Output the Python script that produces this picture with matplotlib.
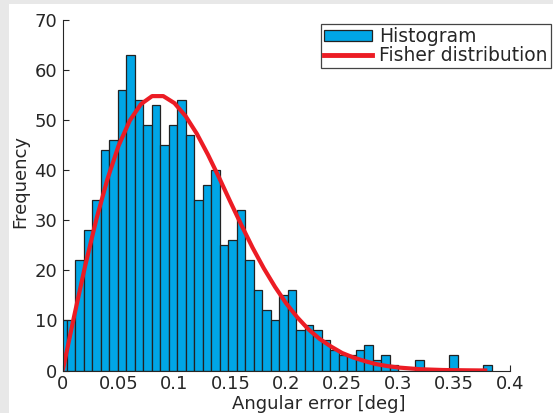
import numpy as np
import matplotlib
matplotlib.use("Agg")
import matplotlib.pyplot as plt
from matplotlib.patches import Patch, Rectangle
from matplotlib.lines import Line2D

# ---- data ----
bin_width = 0.0076
counts = [10, 10, 22, 28, 34, 44, 46, 56, 63, 54,
          49, 53, 45, 49, 54, 47, 34, 37, 40, 25,
          26, 32, 22, 16, 12, 10, 15, 16, 8, 9,
          8, 6, 4, 3, 3, 4, 5, 2, 3, 1,
          0, 0, 2, 0, 0, 0, 3, 0, 0, 0,
          1]
bin_centers = np.arange(len(counts)) * bin_width

fisher_x = [0.00, 0.01, 0.02, 0.03, 0.04, 0.05, 0.06, 0.07, 0.08, 0.09,
            0.10, 0.11, 0.12, 0.13, 0.14, 0.15, 0.16, 0.17, 0.18, 0.19,
            0.20, 0.21, 0.22, 0.23, 0.24, 0.25, 0.26, 0.27, 0.28, 0.29,
            0.30, 0.32, 0.34, 0.36, 0.38]
fisher_y = [0.0, 10.6, 20.8, 30.1, 38.2, 44.9, 49.9, 53.2, 54.8, 54.8,
            53.4, 50.8, 47.3, 43.1, 38.5, 33.7, 29.0, 24.5, 20.4, 16.7,
            13.4, 10.6, 8.2, 6.3, 4.8, 3.5, 2.6, 1.9, 1.3, 0.9,
            0.6, 0.25, 0.1, 0.04, 0.0]

x_ticks = [0, 0.05, 0.1, 0.15, 0.2, 0.25, 0.3, 0.35, 0.4]
x_tick_labels = ["0", "0.05", "0.1", "0.15", "0.2", "0.25", "0.3", "0.35", "0.4"]
y_ticks = [0, 10, 20, 30, 40, 50, 60, 70]

bar_color = "#00a6e6"
edge_color = "#222222"
red = "#ec1c24"
text_color = "#262626"

W, H = 553, 413
fig = plt.figure(figsize=(W / 100, H / 100), dpi=100, facecolor="#e8e8e8")
fig.patches.append(Rectangle((9 / W, 0), 1, 1 - 4 / H, transform=fig.transFigure,
                             facecolor="white", edgecolor="none", zorder=-5))

ax = fig.add_axes([62.7 / W, 1 - 370.5 / H, (509.7 - 62.7) / W, (370.5 - 20) / H])
ax.set_facecolor("white")

ax.bar(bin_centers, counts, width=bin_width, color=bar_color,
       edgecolor=edge_color, linewidth=0.9, zorder=2)
ax.plot(fisher_x, fisher_y, color=red, linewidth=3.0, zorder=3,
        solid_capstyle="butt")

ax.set_xlim(0, 0.4)
ax.set_ylim(0, 70)
ax.set_xticks(x_ticks)
ax.set_xticklabels(x_tick_labels)
ax.set_yticks(y_ticks)

for s in ["top", "right"]:
    ax.spines[s].set_visible(False)
for s in ["left", "bottom"]:
    ax.spines[s].set_color(text_color)
    ax.spines[s].set_linewidth(0.8)
    ax.spines[s].set_zorder(4)

ax.tick_params(direction="in", length=4, width=0.8, colors=text_color,
               labelsize=13)
ax.tick_params(axis="y", pad=4)
ax.tick_params(axis="x", pad=3)

fig.text(20 / W, 1 - 181 / H, "Frequency", rotation=90, ha="center",
         va="center", fontsize=13, color=text_color)
fig.text(319 / W, 1 - 404 / H, "Angular error [deg]", ha="center",
         va="center", fontsize=13, color=text_color)

handles = [Patch(facecolor=bar_color, edgecolor=edge_color, linewidth=0.9),
           Line2D([0], [0], color=red, linewidth=3.5)]
leg = fig.legend(handles, ["Histogram", "Fisher distribution"],
                 loc="upper left", bbox_to_anchor=(320.7 / W, 1 - 24 / H),
                 bbox_transform=fig.transFigure, borderaxespad=0,
                 fontsize=13.5, frameon=True, fancybox=False, shadow=False,
                 framealpha=1, edgecolor="#444444", handlelength=2.56,
                 handleheight=0.55, handletextpad=0.41, borderpad=0.15,
                 labelspacing=0.0, labelcolor=text_color)
leg.get_frame().set_linewidth(0.9)

fig.savefig("out.png", dpi=100, facecolor=fig.get_facecolor())
